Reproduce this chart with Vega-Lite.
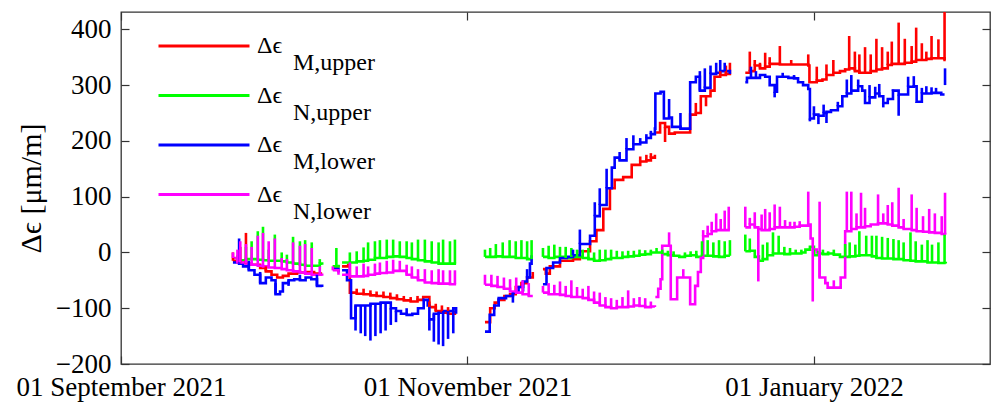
{
  "$schema": "https://vega.github.io/schema/vega-lite/v6.json",
  "width": 869,
  "height": 352,
  "autosize": "none",
  "padding": {"left": 121, "top": 12, "right": 6, "bottom": 41},
  "background": "white",
  "config": {
    "view": {"stroke": "#333333", "strokeWidth": 1.3},
    "font": "Liberation Serif",
    "axis": {
      "grid": false,
      "domain": false,
      "labelFont": "Liberation Serif",
      "labelFontSize": 27,
      "labelColor": "#000000",
      "labelLimit": 400,
      "tickColor": "#333333",
      "tickSize": -8,
      "tickWidth": 1.2,
      "titleFont": "Liberation Serif",
      "titleFontWeight": "normal",
      "titleColor": "#000000"
    }
  },
  "data": {
    "values": [
      {"s":"M,upper","g":"A","t":"2021-09-20T17:00","v":-15,"p":0},
      {"s":"M,upper","g":"A","t":"2021-09-22T00:00","v":-18,"p":10},
      {"s":"M,upper","g":"A","t":"2021-09-23T00:00","v":-20,"p":35},
      {"s":"M,upper","g":"A","t":"2021-09-24T00:00","v":-22},
      {"s":"M,upper","g":"A","t":"2021-09-25T12:00","v":-28},
      {"s":"M,upper","g":"A","t":"2021-09-26T12:00","v":-34,"p":-25},
      {"s":"M,upper","g":"A","t":"2021-09-27T12:00","v":-40},
      {"s":"M,upper","g":"A","t":"2021-09-28T12:00","v":-45},
      {"s":"M,upper","g":"A","t":"2021-09-29T12:00","v":-42},
      {"s":"M,upper","g":"A","t":"2021-09-30T12:00","v":-38},
      {"s":"M,upper","g":"A","t":"2021-10-02T00:00","v":-36},
      {"s":"M,upper","g":"A","t":"2021-10-03T12:00","v":-35},
      {"s":"M,upper","g":"A","t":"2021-10-05T00:00","v":-38},
      {"s":"M,upper","g":"A","t":"2021-10-06T10:00","v":-38},
      {"s":"M,upper","g":"A2","t":"2021-10-08T07:00","v":-25},
      {"s":"M,upper","g":"A2","t":"2021-10-09T07:00","v":-27},
      {"s":"M,upper","g":"B","t":"2021-10-09T22:00","v":-25},
      {"s":"M,upper","g":"B","t":"2021-10-11T00:00","v":-22},
      {"s":"M,upper","g":"B","t":"2021-10-11T07:00","v":-72},
      {"s":"M,upper","g":"B","t":"2021-10-12T12:00","v":-74,"p":-65},
      {"s":"M,upper","g":"B","t":"2021-10-13T17:00","v":-75,"p":-65},
      {"s":"M,upper","g":"B","t":"2021-10-14T22:00","v":-77,"p":-68},
      {"s":"M,upper","g":"B","t":"2021-10-16T00:00","v":-78,"p":-70},
      {"s":"M,upper","g":"B","t":"2021-10-17T05:00","v":-80,"p":-70},
      {"s":"M,upper","g":"B","t":"2021-10-18T10:00","v":-82,"p":-72},
      {"s":"M,upper","g":"B","t":"2021-10-19T14:00","v":-84,"p":-75},
      {"s":"M,upper","g":"B","t":"2021-10-20T19:00","v":-86,"p":-78},
      {"s":"M,upper","g":"B","t":"2021-10-22T00:00","v":-88,"p":-80},
      {"s":"M,upper","g":"B","t":"2021-10-23T05:00","v":-85,"p":-78},
      {"s":"M,upper","g":"B","t":"2021-10-24T05:00","v":-80},
      {"s":"M,upper","g":"B","t":"2021-10-25T07:00","v":-98,"p":-88},
      {"s":"M,upper","g":"B","t":"2021-10-26T10:00","v":-105,"p":-92},
      {"s":"M,upper","g":"B","t":"2021-10-27T12:00","v":-108,"p":-95},
      {"s":"M,upper","g":"B","t":"2021-10-28T14:00","v":-110,"p":-98},
      {"s":"M,upper","g":"B","t":"2021-10-29T19:00","v":-105},
      {"s":"M,upper","g":"C","t":"2021-11-04T02:00","v":-125},
      {"s":"M,upper","g":"C","t":"2021-11-05T00:00","v":-100},
      {"s":"M,upper","g":"C","t":"2021-11-05T19:00","v":-90},
      {"s":"M,upper","g":"C","t":"2021-11-06T12:00","v":-85},
      {"s":"M,upper","g":"C","t":"2021-11-07T12:00","v":-78},
      {"s":"M,upper","g":"C","t":"2021-11-08T12:00","v":-75},
      {"s":"M,upper","g":"C","t":"2021-11-09T12:00","v":-62},
      {"s":"M,upper","g":"C","t":"2021-11-10T12:00","v":-55},
      {"s":"M,upper","g":"C","t":"2021-11-11T12:00","v":-45},
      {"s":"M,upper","g":"C","t":"2021-11-12T12:00","v":-35},
      {"s":"M,upper","g":"D1","t":"2021-11-14T07:00","v":-30},
      {"s":"M,upper","g":"D1","t":"2021-11-14T19:00","v":-38},
      {"s":"M,upper","g":"D1","t":"2021-11-15T12:00","v":-25},
      {"s":"M,upper","g":"D1","t":"2021-11-17T07:00","v":-15},
      {"s":"M,upper","g":"D1","t":"2021-11-19T14:00","v":-12},
      {"s":"M,upper","g":"D1","t":"2021-11-20T19:00","v":2},
      {"s":"M,upper","g":"D1","t":"2021-11-22T14:00","v":20},
      {"s":"M,upper","g":"D1","t":"2021-11-23T17:00","v":40},
      {"s":"M,upper","g":"D1","t":"2021-11-24T22:00","v":78},
      {"s":"M,upper","g":"D1","t":"2021-11-26T02:00","v":115},
      {"s":"M,upper","g":"D1","t":"2021-11-26T22:00","v":130},
      {"s":"M,upper","g":"D1","t":"2021-11-28T10:00","v":135},
      {"s":"M,upper","g":"D1","t":"2021-11-29T22:00","v":157},
      {"s":"M,upper","g":"D1","t":"2021-12-01T10:00","v":163,"p":172},
      {"s":"M,upper","g":"D1","t":"2021-12-02T12:00","v":165,"p":175},
      {"s":"M,upper","g":"D1","t":"2021-12-03T07:00","v":170,"p":178},
      {"s":"M,upper","g":"D1","t":"2021-12-04T00:00","v":175},
      {"s":"M,upper","g":"D2","t":"2021-12-04T05:00","v":215},
      {"s":"M,upper","g":"D2","t":"2021-12-04T22:00","v":232},
      {"s":"M,upper","g":"D2","t":"2021-12-05T19:00","v":225,"p":198},
      {"s":"M,upper","g":"D2","t":"2021-12-06T12:00","v":213},
      {"s":"M,upper","g":"D2","t":"2021-12-07T12:00","v":215},
      {"s":"M,upper","g":"D2","t":"2021-12-10T05:00","v":247},
      {"s":"M,upper","g":"D2","t":"2021-12-11T05:00","v":250,"p":268},
      {"s":"M,upper","g":"D2","t":"2021-12-12T02:00","v":280},
      {"s":"M,upper","g":"D2","t":"2021-12-13T00:00","v":280,"p":262},
      {"s":"M,upper","g":"D2","t":"2021-12-13T19:00","v":290},
      {"s":"M,upper","g":"D2","t":"2021-12-14T12:00","v":315},
      {"s":"M,upper","g":"D2","t":"2021-12-15T12:00","v":318,"p":325},
      {"s":"M,upper","g":"D2","t":"2021-12-16T12:00","v":320,"p":335},
      {"s":"M,upper","g":"D2","t":"2021-12-17T05:00","v":340},
      {"s":"M,upper","g":"E","t":"2021-12-19T22:00","v":322},
      {"s":"M,upper","g":"E","t":"2021-12-20T17:00","v":325,"p":360},
      {"s":"M,upper","g":"E","t":"2021-12-21T14:00","v":335,"p":345},
      {"s":"M,upper","g":"E","t":"2021-12-22T12:00","v":330,"p":340},
      {"s":"M,upper","g":"E","t":"2021-12-23T10:00","v":333,"p":358},
      {"s":"M,upper","g":"E","t":"2021-12-24T05:00","v":338,"p":350},
      {"s":"M,upper","g":"E","t":"2021-12-25T02:00","v":338},
      {"s":"M,upper","g":"E","t":"2021-12-26T00:00","v":337,"p":370},
      {"s":"M,upper","g":"E","t":"2021-12-27T00:00","v":337},
      {"s":"M,upper","g":"E","t":"2021-12-28T00:00","v":337,"p":345},
      {"s":"M,upper","g":"E","t":"2021-12-29T05:00","v":337},
      {"s":"M,upper","g":"E","t":"2021-12-31T00:00","v":335,"p":355},
      {"s":"M,upper","g":"E","t":"2021-12-31T05:00","v":305},
      {"s":"M,upper","g":"E","t":"2022-01-01T12:00","v":308,"p":333},
      {"s":"M,upper","g":"E","t":"2022-01-02T12:00","v":310},
      {"s":"M,upper","g":"E","t":"2022-01-03T05:00","v":318,"p":337},
      {"s":"M,upper","g":"E","t":"2022-01-04T10:00","v":322,"p":345},
      {"s":"M,upper","g":"E","t":"2022-01-05T14:00","v":325},
      {"s":"M,upper","g":"E","t":"2022-01-06T12:00","v":328,"p":330},
      {"s":"M,upper","g":"E","t":"2022-01-07T05:00","v":330,"p":388},
      {"s":"M,upper","g":"E","t":"2022-01-08T05:00","v":325,"p":360},
      {"s":"M,upper","g":"E","t":"2022-01-09T00:00","v":322,"p":355},
      {"s":"M,upper","g":"E","t":"2022-01-10T00:00","v":322,"p":368},
      {"s":"M,upper","g":"E","t":"2022-01-11T00:00","v":325,"p":355},
      {"s":"M,upper","g":"E","t":"2022-01-12T00:00","v":328,"p":383},
      {"s":"M,upper","g":"E","t":"2022-01-13T00:00","v":330,"p":368},
      {"s":"M,upper","g":"E","t":"2022-01-14T00:00","v":336,"p":360},
      {"s":"M,upper","g":"E","t":"2022-01-14T17:00","v":338,"p":378},
      {"s":"M,upper","g":"E","t":"2022-01-15T22:00","v":338,"p":412},
      {"s":"M,upper","g":"E","t":"2022-01-17T00:00","v":340,"p":383},
      {"s":"M,upper","g":"E","t":"2022-01-18T05:00","v":342,"p":370},
      {"s":"M,upper","g":"E","t":"2022-01-19T00:00","v":345,"p":403},
      {"s":"M,upper","g":"E","t":"2022-01-20T00:00","v":345,"p":375},
      {"s":"M,upper","g":"E","t":"2022-01-20T19:00","v":347,"p":360},
      {"s":"M,upper","g":"E","t":"2022-01-21T17:00","v":348,"p":388},
      {"s":"M,upper","g":"E","t":"2022-01-22T22:00","v":348,"p":382},
      {"s":"M,upper","g":"E","t":"2022-01-24T00:00","v":345,"p":440},
      {"s":"M,upper","g":"E","t":"2022-01-24T05:00","v":345},

      {"s":"N,upper","g":"A","t":"2021-09-21T12:00","v":-14,"p":-5},
      {"s":"N,upper","g":"A","t":"2021-09-23T00:00","v":-12,"p":10},
      {"s":"N,upper","g":"A","t":"2021-09-24T00:00","v":-12,"p":20},
      {"s":"N,upper","g":"A","t":"2021-09-25T02:00","v":-13,"p":38},
      {"s":"N,upper","g":"A","t":"2021-09-26T00:00","v":-14,"p":46},
      {"s":"N,upper","g":"A","t":"2021-09-27T00:00","v":-15,"p":5},
      {"s":"N,upper","g":"A","t":"2021-09-28T02:00","v":-15,"p":32},
      {"s":"N,upper","g":"A","t":"2021-09-29T07:00","v":-16,"p":0},
      {"s":"N,upper","g":"A","t":"2021-09-30T05:00","v":-18,"p":-4},
      {"s":"N,upper","g":"A","t":"2021-10-01T07:00","v":-20,"p":28},
      {"s":"N,upper","g":"A","t":"2021-10-02T12:00","v":-22,"p":20},
      {"s":"N,upper","g":"A","t":"2021-10-03T10:00","v":-24,"p":22},
      {"s":"N,upper","g":"A","t":"2021-10-04T14:00","v":-24,"p":18},
      {"s":"N,upper","g":"A","t":"2021-10-06T00:00","v":-20,"p":-12},
      {"s":"N,upper","g":"A","t":"2021-10-06T10:00","v":-22},
      {"s":"N,upper","g":"A2","t":"2021-10-08T07:00","v":-25},
      {"s":"N,upper","g":"A2","t":"2021-10-08T22:00","v":-25,"p":8},
      {"s":"N,upper","g":"A2","t":"2021-10-09T07:00","v":-22},
      {"s":"N,upper","g":"B","t":"2021-10-09T22:00","v":-18},
      {"s":"N,upper","g":"B","t":"2021-10-11T07:00","v":-18,"p":0},
      {"s":"N,upper","g":"B","t":"2021-10-12T12:00","v":-16,"p":2},
      {"s":"N,upper","g":"B","t":"2021-10-13T17:00","v":-15,"p":9},
      {"s":"N,upper","g":"B","t":"2021-10-14T12:00","v":-13,"p":18},
      {"s":"N,upper","g":"B","t":"2021-10-15T17:00","v":-10,"p":20},
      {"s":"N,upper","g":"B","t":"2021-10-16T14:00","v":-10,"p":22},
      {"s":"N,upper","g":"B","t":"2021-10-17T19:00","v":-8,"p":23},
      {"s":"N,upper","g":"B","t":"2021-10-18T22:00","v":-7,"p":23},
      {"s":"N,upper","g":"B","t":"2021-10-20T02:00","v":-8,"p":20},
      {"s":"N,upper","g":"B","t":"2021-10-21T07:00","v":-10,"p":20},
      {"s":"N,upper","g":"B","t":"2021-10-22T05:00","v":-12,"p":18},
      {"s":"N,upper","g":"B","t":"2021-10-23T07:00","v":-14,"p":23},
      {"s":"N,upper","g":"B","t":"2021-10-24T12:00","v":-16,"p":23},
      {"s":"N,upper","g":"B","t":"2021-10-25T17:00","v":-18,"p":20},
      {"s":"N,upper","g":"B","t":"2021-10-26T22:00","v":-20,"p":18},
      {"s":"N,upper","g":"B","t":"2021-10-27T17:00","v":-20,"p":23},
      {"s":"N,upper","g":"B","t":"2021-10-28T22:00","v":-20,"p":20},
      {"s":"N,upper","g":"B","t":"2021-10-29T19:00","v":-20,"p":23},
      {"s":"N,upper","g":"B","t":"2021-10-30T00:00","v":-20},
      {"s":"N,upper","g":"C","t":"2021-11-04T02:00","v":-8,"p":5},
      {"s":"N,upper","g":"C","t":"2021-11-05T00:00","v":-8,"p":8},
      {"s":"N,upper","g":"C","t":"2021-11-06T00:00","v":-7,"p":15},
      {"s":"N,upper","g":"C","t":"2021-11-07T05:00","v":-8,"p":18},
      {"s":"N,upper","g":"C","t":"2021-11-08T10:00","v":-8,"p":22},
      {"s":"N,upper","g":"C","t":"2021-11-09T12:00","v":-10,"p":20},
      {"s":"N,upper","g":"C","t":"2021-11-10T12:00","v":-10,"p":22},
      {"s":"N,upper","g":"C","t":"2021-11-11T12:00","v":-12,"p":20},
      {"s":"N,upper","g":"C","t":"2021-11-12T07:00","v":-12,"p":22},
      {"s":"N,upper","g":"C","t":"2021-11-12T12:00","v":-12},
      {"s":"N,upper","g":"D","t":"2021-11-14T07:00","v":-8,"p":8},
      {"s":"N,upper","g":"D","t":"2021-11-15T07:00","v":-10,"p":12},
      {"s":"N,upper","g":"D","t":"2021-11-16T07:00","v":-8,"p":14},
      {"s":"N,upper","g":"D","t":"2021-11-17T07:00","v":-8,"p":10},
      {"s":"N,upper","g":"D","t":"2021-11-18T07:00","v":-10,"p":10},
      {"s":"N,upper","g":"D","t":"2021-11-19T07:00","v":-8,"p":8},
      {"s":"N,upper","g":"D","t":"2021-11-20T07:00","v":-8,"p":5},
      {"s":"N,upper","g":"D","t":"2021-11-21T07:00","v":-10,"p":5},
      {"s":"N,upper","g":"D","t":"2021-11-22T07:00","v":-12,"p":8},
      {"s":"N,upper","g":"D","t":"2021-11-23T07:00","v":-15,"p":0},
      {"s":"N,upper","g":"D","t":"2021-11-24T07:00","v":-14,"p":5},
      {"s":"N,upper","g":"D","t":"2021-11-25T07:00","v":-12,"p":5},
      {"s":"N,upper","g":"D","t":"2021-11-26T07:00","v":-10,"p":5},
      {"s":"N,upper","g":"D","t":"2021-11-27T07:00","v":-10,"p":3},
      {"s":"N,upper","g":"D","t":"2021-11-28T07:00","v":-8,"p":2},
      {"s":"N,upper","g":"D","t":"2021-11-29T07:00","v":-7,"p":3},
      {"s":"N,upper","g":"D","t":"2021-11-30T07:00","v":-6,"p":3},
      {"s":"N,upper","g":"D","t":"2021-12-01T07:00","v":-4,"p":5},
      {"s":"N,upper","g":"D","t":"2021-12-02T07:00","v":-3,"p":4},
      {"s":"N,upper","g":"D","t":"2021-12-03T07:00","v":0,"p":5},
      {"s":"N,upper","g":"D","t":"2021-12-04T07:00","v":0,"p":8},
      {"s":"N,upper","g":"D","t":"2021-12-05T07:00","v":-3,"p":5},
      {"s":"N,upper","g":"D","t":"2021-12-06T07:00","v":-5,"p":3},
      {"s":"N,upper","g":"D","t":"2021-12-07T07:00","v":-6,"p":2},
      {"s":"N,upper","g":"D","t":"2021-12-08T07:00","v":-8},
      {"s":"N,upper","g":"D","t":"2021-12-09T07:00","v":-6,"p":0},
      {"s":"N,upper","g":"D","t":"2021-12-10T07:00","v":-5,"p":2},
      {"s":"N,upper","g":"D","t":"2021-12-11T07:00","v":-8,"p":3},
      {"s":"N,upper","g":"D","t":"2021-12-12T07:00","v":-6,"p":20},
      {"s":"N,upper","g":"D","t":"2021-12-13T07:00","v":-6,"p":22},
      {"s":"N,upper","g":"D","t":"2021-12-14T07:00","v":-7,"p":18},
      {"s":"N,upper","g":"D","t":"2021-12-15T07:00","v":-8,"p":22},
      {"s":"N,upper","g":"D","t":"2021-12-16T07:00","v":-6,"p":20},
      {"s":"N,upper","g":"D","t":"2021-12-17T05:00","v":-6,"p":22},
      {"s":"N,upper","g":"E","t":"2021-12-19T22:00","v":2,"p":32},
      {"s":"N,upper","g":"E","t":"2021-12-20T17:00","v":3,"p":25},
      {"s":"N,upper","g":"E","t":"2021-12-21T14:00","v":-8},
      {"s":"N,upper","g":"E","t":"2021-12-22T07:00","v":-15,"p":-5},
      {"s":"N,upper","g":"E","t":"2021-12-23T00:00","v":-12,"p":14},
      {"s":"N,upper","g":"E","t":"2021-12-23T19:00","v":-5,"p":18},
      {"s":"N,upper","g":"E","t":"2021-12-24T19:00","v":-2,"p":36},
      {"s":"N,upper","g":"E","t":"2021-12-25T19:00","v":-2,"p":30},
      {"s":"N,upper","g":"E","t":"2021-12-26T19:00","v":-3,"p":10},
      {"s":"N,upper","g":"E","t":"2021-12-27T19:00","v":-2,"p":8},
      {"s":"N,upper","g":"E","t":"2021-12-28T19:00","v":-2,"p":5},
      {"s":"N,upper","g":"E","t":"2021-12-29T19:00","v":0,"p":5},
      {"s":"N,upper","g":"E","t":"2021-12-30T12:00","v":5},
      {"s":"N,upper","g":"E","t":"2021-12-31T07:00","v":10},
      {"s":"N,upper","g":"E","t":"2022-01-01T00:00","v":-5,"p":5},
      {"s":"N,upper","g":"E","t":"2022-01-01T19:00","v":-2,"p":3},
      {"s":"N,upper","g":"E","t":"2022-01-02T14:00","v":-3,"p":5},
      {"s":"N,upper","g":"E","t":"2022-01-03T12:00","v":-2,"p":2},
      {"s":"N,upper","g":"E","t":"2022-01-04T12:00","v":-4,"p":5},
      {"s":"N,upper","g":"E","t":"2022-01-05T14:00","v":-8},
      {"s":"N,upper","g":"E","t":"2022-01-06T12:00","v":-8,"p":15},
      {"s":"N,upper","g":"E","t":"2022-01-07T07:00","v":-7,"p":18},
      {"s":"N,upper","g":"E","t":"2022-01-08T07:00","v":-6,"p":14},
      {"s":"N,upper","g":"E","t":"2022-01-09T00:00","v":-5,"p":38},
      {"s":"N,upper","g":"E","t":"2022-01-10T05:00","v":-5,"p":30},
      {"s":"N,upper","g":"E","t":"2022-01-11T05:00","v":-7,"p":30},
      {"s":"N,upper","g":"E","t":"2022-01-12T00:00","v":-10,"p":30},
      {"s":"N,upper","g":"E","t":"2022-01-13T00:00","v":-11,"p":28},
      {"s":"N,upper","g":"E","t":"2022-01-14T00:00","v":-11,"p":26},
      {"s":"N,upper","g":"E","t":"2022-01-15T00:00","v":-12,"p":24},
      {"s":"N,upper","g":"E","t":"2022-01-15T22:00","v":-12,"p":22},
      {"s":"N,upper","g":"E","t":"2022-01-16T19:00","v":-14,"p":18},
      {"s":"N,upper","g":"E","t":"2022-01-18T00:00","v":-15,"p":36},
      {"s":"N,upper","g":"E","t":"2022-01-18T22:00","v":-16,"p":20},
      {"s":"N,upper","g":"E","t":"2022-01-20T00:00","v":-16,"p":14},
      {"s":"N,upper","g":"E","t":"2022-01-21T00:00","v":-18,"p":22},
      {"s":"N,upper","g":"E","t":"2022-01-21T19:00","v":-18,"p":14},
      {"s":"N,upper","g":"E","t":"2022-01-22T22:00","v":-19,"p":18},
      {"s":"N,upper","g":"E","t":"2022-01-24T00:00","v":-19,"p":32},
      {"s":"N,upper","g":"E","t":"2022-01-24T05:00","v":-20},

      {"s":"M,lower","g":"A","t":"2021-09-20T17:00","v":-18},
      {"s":"M,lower","g":"A","t":"2021-09-21T19:00","v":-20,"p":25},
      {"s":"M,lower","g":"A","t":"2021-09-22T12:00","v":-25},
      {"s":"M,lower","g":"A","t":"2021-09-23T12:00","v":-32,"p":-15},
      {"s":"M,lower","g":"A","t":"2021-09-24T12:00","v":-40},
      {"s":"M,lower","g":"A","t":"2021-09-25T12:00","v":-55,"p":-35},
      {"s":"M,lower","g":"A","t":"2021-09-26T12:00","v":-45},
      {"s":"M,lower","g":"A","t":"2021-09-27T12:00","v":-50},
      {"s":"M,lower","g":"A","t":"2021-09-28T05:00","v":-75,"p":-55},
      {"s":"M,lower","g":"A","t":"2021-09-29T00:00","v":-70},
      {"s":"M,lower","g":"A","t":"2021-09-29T12:00","v":-55},
      {"s":"M,lower","g":"A","t":"2021-09-30T12:00","v":-50,"p":-60},
      {"s":"M,lower","g":"A","t":"2021-10-01T12:00","v":-48},
      {"s":"M,lower","g":"A","t":"2021-10-02T12:00","v":-50,"p":-40},
      {"s":"M,lower","g":"A","t":"2021-10-03T12:00","v":-45},
      {"s":"M,lower","g":"A","t":"2021-10-04T12:00","v":-48},
      {"s":"M,lower","g":"A","t":"2021-10-05T12:00","v":-60,"p":-40},
      {"s":"M,lower","g":"A","t":"2021-10-06T10:00","v":-62},
      {"s":"M,lower","g":"A2","t":"2021-10-08T07:00","v":-30},
      {"s":"M,lower","g":"A2","t":"2021-10-09T07:00","v":-36},
      {"s":"M,lower","g":"B","t":"2021-10-09T22:00","v":-32},
      {"s":"M,lower","g":"B","t":"2021-10-10T19:00","v":-50},
      {"s":"M,lower","g":"B","t":"2021-10-11T12:00","v":-118},
      {"s":"M,lower","g":"B","t":"2021-10-12T07:00","v":-95,"p":-140},
      {"s":"M,lower","g":"B","t":"2021-10-13T05:00","v":-95,"p":-145},
      {"s":"M,lower","g":"B","t":"2021-10-14T00:00","v":-95,"p":-150},
      {"s":"M,lower","g":"B","t":"2021-10-14T22:00","v":-92,"p":-158},
      {"s":"M,lower","g":"B","t":"2021-10-15T19:00","v":-92,"p":-150},
      {"s":"M,lower","g":"B","t":"2021-10-16T17:00","v":-90,"p":-145},
      {"s":"M,lower","g":"B","t":"2021-10-17T14:00","v":-90,"p":-140},
      {"s":"M,lower","g":"B","t":"2021-10-18T12:00","v":-100,"p":-130},
      {"s":"M,lower","g":"B","t":"2021-10-19T10:00","v":-105,"p":-125},
      {"s":"M,lower","g":"B","t":"2021-10-20T07:00","v":-110},
      {"s":"M,lower","g":"B","t":"2021-10-21T07:00","v":-112,"p":-100},
      {"s":"M,lower","g":"B","t":"2021-10-22T07:00","v":-110},
      {"s":"M,lower","g":"B","t":"2021-10-23T07:00","v":-100},
      {"s":"M,lower","g":"B","t":"2021-10-24T07:00","v":-85},
      {"s":"M,lower","g":"B","t":"2021-10-25T00:00","v":-95},
      {"s":"M,lower","g":"B","t":"2021-10-25T07:00","v":-120,"p":-140},
      {"s":"M,lower","g":"B","t":"2021-10-26T02:00","v":-110,"p":-160},
      {"s":"M,lower","g":"B","t":"2021-10-26T22:00","v":-108,"p":-165},
      {"s":"M,lower","g":"B","t":"2021-10-27T17:00","v":-105,"p":-168},
      {"s":"M,lower","g":"B","t":"2021-10-28T14:00","v":-105,"p":-155},
      {"s":"M,lower","g":"B","t":"2021-10-29T12:00","v":-100,"p":-145},
      {"s":"M,lower","g":"B","t":"2021-10-30T00:00","v":-110},
      {"s":"M,lower","g":"C","t":"2021-11-04T02:00","v":-142},
      {"s":"M,lower","g":"C","t":"2021-11-04T22:00","v":-112},
      {"s":"M,lower","g":"C","t":"2021-11-05T17:00","v":-95},
      {"s":"M,lower","g":"C","t":"2021-11-06T12:00","v":-82,"p":-90},
      {"s":"M,lower","g":"C","t":"2021-11-07T19:00","v":-78},
      {"s":"M,lower","g":"C","t":"2021-11-09T00:00","v":-72,"p":-90},
      {"s":"M,lower","g":"C","t":"2021-11-10T00:00","v":-62},
      {"s":"M,lower","g":"C","t":"2021-11-10T19:00","v":-52,"p":-70},
      {"s":"M,lower","g":"C","t":"2021-11-11T12:00","v":-45,"p":-30},
      {"s":"M,lower","g":"C","t":"2021-11-12T00:00","v":-20},
      {"s":"M,lower","g":"C","t":"2021-11-12T07:00","v":-5},
      {"s":"M,lower","g":"D","t":"2021-11-14T07:00","v":-57},
      {"s":"M,lower","g":"D","t":"2021-11-14T22:00","v":-28},
      {"s":"M,lower","g":"D","t":"2021-11-16T02:00","v":-18},
      {"s":"M,lower","g":"D","t":"2021-11-17T07:00","v":-10},
      {"s":"M,lower","g":"D","t":"2021-11-18T12:00","v":-8},
      {"s":"M,lower","g":"D","t":"2021-11-19T14:00","v":-5,"p":5},
      {"s":"M,lower","g":"D","t":"2021-11-20T19:00","v":15,"p":41},
      {"s":"M,lower","g":"D","t":"2021-11-22T14:00","v":30},
      {"s":"M,lower","g":"D","t":"2021-11-23T10:00","v":65,"p":90},
      {"s":"M,lower","g":"D","t":"2021-11-24T07:00","v":85,"p":115},
      {"s":"M,lower","g":"D","t":"2021-11-25T12:00","v":115,"p":150},
      {"s":"M,lower","g":"D","t":"2021-11-26T10:00","v":152},
      {"s":"M,lower","g":"D","t":"2021-11-26T22:00","v":170},
      {"s":"M,lower","g":"D","t":"2021-11-27T19:00","v":165,"p":180},
      {"s":"M,lower","g":"D","t":"2021-11-29T00:00","v":185,"p":205},
      {"s":"M,lower","g":"D","t":"2021-11-30T05:00","v":194,"p":210},
      {"s":"M,lower","g":"D","t":"2021-12-01T10:00","v":197,"p":205},
      {"s":"M,lower","g":"D","t":"2021-12-02T12:00","v":205,"p":212},
      {"s":"M,lower","g":"D","t":"2021-12-03T07:00","v":212,"p":218},
      {"s":"M,lower","g":"D","t":"2021-12-04T00:00","v":222},
      {"s":"M,lower","g":"D","t":"2021-12-04T02:00","v":285},
      {"s":"M,lower","g":"D","t":"2021-12-05T00:00","v":288},
      {"s":"M,lower","g":"D","t":"2021-12-05T14:00","v":240},
      {"s":"M,lower","g":"D","t":"2021-12-06T12:00","v":242,"p":275},
      {"s":"M,lower","g":"D","t":"2021-12-07T00:00","v":225},
      {"s":"M,lower","g":"D","t":"2021-12-08T12:00","v":222,"p":250},
      {"s":"M,lower","g":"D","t":"2021-12-10T05:00","v":305},
      {"s":"M,lower","g":"D","t":"2021-12-11T05:00","v":315},
      {"s":"M,lower","g":"D","t":"2021-12-11T22:00","v":290,"p":325},
      {"s":"M,lower","g":"D","t":"2021-12-12T19:00","v":295,"p":330},
      {"s":"M,lower","g":"D","t":"2021-12-13T19:00","v":320,"p":335},
      {"s":"M,lower","g":"D","t":"2021-12-14T19:00","v":322,"p":340},
      {"s":"M,lower","g":"D","t":"2021-12-15T12:00","v":325,"p":345},
      {"s":"M,lower","g":"D","t":"2021-12-16T07:00","v":325,"p":340},
      {"s":"M,lower","g":"D","t":"2021-12-17T05:00","v":320},
      {"s":"M,lower","g":"E","t":"2021-12-19T22:00","v":305},
      {"s":"M,lower","g":"E","t":"2021-12-20T05:00","v":313},
      {"s":"M,lower","g":"E","t":"2021-12-20T22:00","v":313,"p":333},
      {"s":"M,lower","g":"E","t":"2021-12-21T19:00","v":313,"p":325},
      {"s":"M,lower","g":"E","t":"2021-12-22T12:00","v":318},
      {"s":"M,lower","g":"E","t":"2021-12-23T10:00","v":315},
      {"s":"M,lower","g":"E","t":"2021-12-24T05:00","v":300},
      {"s":"M,lower","g":"E","t":"2021-12-25T02:00","v":288,"p":278},
      {"s":"M,lower","g":"E","t":"2021-12-25T12:00","v":315},
      {"s":"M,lower","g":"E","t":"2021-12-26T12:00","v":315,"p":322},
      {"s":"M,lower","g":"E","t":"2021-12-27T12:00","v":313},
      {"s":"M,lower","g":"E","t":"2021-12-28T12:00","v":312,"p":318},
      {"s":"M,lower","g":"E","t":"2021-12-29T05:00","v":305},
      {"s":"M,lower","g":"E","t":"2021-12-30T02:00","v":300},
      {"s":"M,lower","g":"E","t":"2021-12-31T00:00","v":293},
      {"s":"M,lower","g":"E","t":"2021-12-31T07:00","v":240,"p":235},
      {"s":"M,lower","g":"E","t":"2022-01-01T00:00","v":247,"p":262},
      {"s":"M,lower","g":"E","t":"2022-01-01T19:00","v":245,"p":230},
      {"s":"M,lower","g":"E","t":"2022-01-02T17:00","v":250,"p":265},
      {"s":"M,lower","g":"E","t":"2022-01-03T05:00","v":252,"p":232},
      {"s":"M,lower","g":"E","t":"2022-01-04T00:00","v":255},
      {"s":"M,lower","g":"E","t":"2022-01-05T05:00","v":262,"p":270},
      {"s":"M,lower","g":"E","t":"2022-01-06T00:00","v":280},
      {"s":"M,lower","g":"E","t":"2022-01-06T19:00","v":285,"p":310},
      {"s":"M,lower","g":"E","t":"2022-01-07T14:00","v":290,"p":318},
      {"s":"M,lower","g":"E","t":"2022-01-08T19:00","v":298,"p":310},
      {"s":"M,lower","g":"E","t":"2022-01-09T12:00","v":290},
      {"s":"M,lower","g":"E","t":"2022-01-10T00:00","v":268},
      {"s":"M,lower","g":"E","t":"2022-01-10T19:00","v":278,"p":300},
      {"s":"M,lower","g":"E","t":"2022-01-11T19:00","v":285,"p":297},
      {"s":"M,lower","g":"E","t":"2022-01-12T12:00","v":280,"p":302},
      {"s":"M,lower","g":"E","t":"2022-01-13T05:00","v":268,"p":260},
      {"s":"M,lower","g":"E","t":"2022-01-14T00:00","v":275},
      {"s":"M,lower","g":"E","t":"2022-01-14T22:00","v":290,"p":292},
      {"s":"M,lower","g":"E","t":"2022-01-15T22:00","v":283,"p":245},
      {"s":"M,lower","g":"E","t":"2022-01-16T19:00","v":283},
      {"s":"M,lower","g":"E","t":"2022-01-17T14:00","v":297,"p":315},
      {"s":"M,lower","g":"E","t":"2022-01-18T14:00","v":298,"p":316},
      {"s":"M,lower","g":"E","t":"2022-01-19T02:00","v":270,"p":268},
      {"s":"M,lower","g":"E","t":"2022-01-20T00:00","v":285,"p":295},
      {"s":"M,lower","g":"E","t":"2022-01-20T19:00","v":285,"p":298},
      {"s":"M,lower","g":"E","t":"2022-01-21T17:00","v":286,"p":296},
      {"s":"M,lower","g":"E","t":"2022-01-22T12:00","v":286,"p":295},
      {"s":"M,lower","g":"E","t":"2022-01-23T10:00","v":283},
      {"s":"M,lower","g":"E","t":"2022-01-24T00:00","v":283},
      {"s":"M,lower","g":"E2","t":"2022-01-24T02:00","v":300,"p":330},

      {"s":"N,lower","g":"A","t":"2021-09-20T17:00","v":-10,"p":0},
      {"s":"N,lower","g":"A","t":"2021-09-21T12:00","v":-18,"p":5},
      {"s":"N,lower","g":"A","t":"2021-09-22T00:00","v":-18,"p":20},
      {"s":"N,lower","g":"A","t":"2021-09-23T00:00","v":-20,"p":15},
      {"s":"N,lower","g":"A","t":"2021-09-24T00:00","v":-22,"p":10},
      {"s":"N,lower","g":"A","t":"2021-09-25T02:00","v":-24,"p":30},
      {"s":"N,lower","g":"A","t":"2021-09-26T00:00","v":-25,"p":35},
      {"s":"N,lower","g":"A","t":"2021-09-27T00:00","v":-27,"p":20},
      {"s":"N,lower","g":"A","t":"2021-09-28T02:00","v":-28,"p":25},
      {"s":"N,lower","g":"A","t":"2021-09-29T07:00","v":-30,"p":-10},
      {"s":"N,lower","g":"A","t":"2021-09-30T05:00","v":-32,"p":-12},
      {"s":"N,lower","g":"A","t":"2021-10-01T07:00","v":-34,"p":18},
      {"s":"N,lower","g":"A","t":"2021-10-02T12:00","v":-36,"p":12},
      {"s":"N,lower","g":"A","t":"2021-10-03T10:00","v":-38,"p":15},
      {"s":"N,lower","g":"A","t":"2021-10-04T14:00","v":-40,"p":8},
      {"s":"N,lower","g":"A","t":"2021-10-06T00:00","v":-40,"p":-25},
      {"s":"N,lower","g":"A","t":"2021-10-06T10:00","v":-42},
      {"s":"N,lower","g":"A2","t":"2021-10-08T07:00","v":-32,"p":-25},
      {"s":"N,lower","g":"A2","t":"2021-10-09T07:00","v":-40},
      {"s":"N,lower","g":"B","t":"2021-10-09T22:00","v":-40},
      {"s":"N,lower","g":"B","t":"2021-10-11T07:00","v":-43,"p":-18},
      {"s":"N,lower","g":"B","t":"2021-10-12T12:00","v":-43,"p":-25},
      {"s":"N,lower","g":"B","t":"2021-10-13T17:00","v":-42,"p":-20},
      {"s":"N,lower","g":"B","t":"2021-10-14T12:00","v":-40,"p":-25},
      {"s":"N,lower","g":"B","t":"2021-10-15T17:00","v":-38,"p":-20},
      {"s":"N,lower","g":"B","t":"2021-10-16T14:00","v":-37,"p":-18},
      {"s":"N,lower","g":"B","t":"2021-10-17T19:00","v":-36,"p":-15},
      {"s":"N,lower","g":"B","t":"2021-10-18T22:00","v":-33,"p":-13},
      {"s":"N,lower","g":"B","t":"2021-10-20T02:00","v":-33,"p":-15},
      {"s":"N,lower","g":"B","t":"2021-10-21T07:00","v":-40,"p":-22},
      {"s":"N,lower","g":"B","t":"2021-10-22T05:00","v":-45,"p":-25},
      {"s":"N,lower","g":"B","t":"2021-10-23T07:00","v":-50,"p":-30},
      {"s":"N,lower","g":"B","t":"2021-10-24T12:00","v":-54,"p":-30},
      {"s":"N,lower","g":"B","t":"2021-10-25T17:00","v":-55,"p":-32},
      {"s":"N,lower","g":"B","t":"2021-10-26T22:00","v":-56,"p":-30},
      {"s":"N,lower","g":"B","t":"2021-10-27T17:00","v":-56,"p":-32},
      {"s":"N,lower","g":"B","t":"2021-10-28T22:00","v":-57,"p":-32},
      {"s":"N,lower","g":"B","t":"2021-10-29T19:00","v":-57,"p":-32},
      {"s":"N,lower","g":"B","t":"2021-10-30T00:00","v":-57},
      {"s":"N,lower","g":"C","t":"2021-11-04T02:00","v":-58,"p":-40},
      {"s":"N,lower","g":"C","t":"2021-11-05T05:00","v":-60,"p":-40},
      {"s":"N,lower","g":"C","t":"2021-11-06T07:00","v":-62,"p":-42},
      {"s":"N,lower","g":"C","t":"2021-11-07T10:00","v":-65,"p":-45},
      {"s":"N,lower","g":"C","t":"2021-11-08T12:00","v":-70,"p":-48},
      {"s":"N,lower","g":"C","t":"2021-11-09T14:00","v":-72,"p":-45},
      {"s":"N,lower","g":"C","t":"2021-11-10T17:00","v":-75,"p":-50},
      {"s":"N,lower","g":"C","t":"2021-11-11T19:00","v":-78,"p":-55},
      {"s":"N,lower","g":"C","t":"2021-11-12T12:00","v":-78},
      {"s":"N,lower","g":"D1","t":"2021-11-14T07:00","v":-72,"p":-60},
      {"s":"N,lower","g":"D1","t":"2021-11-15T07:00","v":-75,"p":-55},
      {"s":"N,lower","g":"D1","t":"2021-11-16T07:00","v":-75,"p":-58},
      {"s":"N,lower","g":"D1","t":"2021-11-17T07:00","v":-76,"p":-52},
      {"s":"N,lower","g":"D1","t":"2021-11-18T07:00","v":-78,"p":-60},
      {"s":"N,lower","g":"D1","t":"2021-11-19T07:00","v":-80,"p":-50},
      {"s":"N,lower","g":"D1","t":"2021-11-20T07:00","v":-80,"p":-62},
      {"s":"N,lower","g":"D1","t":"2021-11-21T07:00","v":-82,"p":-65},
      {"s":"N,lower","g":"D1","t":"2021-11-22T07:00","v":-85,"p":-60},
      {"s":"N,lower","g":"D1","t":"2021-11-23T07:00","v":-90,"p":-70},
      {"s":"N,lower","g":"D1","t":"2021-11-24T07:00","v":-95,"p":-72},
      {"s":"N,lower","g":"D1","t":"2021-11-25T07:00","v":-98,"p":-80},
      {"s":"N,lower","g":"D1","t":"2021-11-26T07:00","v":-100,"p":-82},
      {"s":"N,lower","g":"D1","t":"2021-11-27T07:00","v":-98,"p":-85},
      {"s":"N,lower","g":"D1","t":"2021-11-28T07:00","v":-98,"p":-80},
      {"s":"N,lower","g":"D1","t":"2021-11-29T07:00","v":-97,"p":-68},
      {"s":"N,lower","g":"D1","t":"2021-11-30T07:00","v":-95,"p":-82},
      {"s":"N,lower","g":"D1","t":"2021-12-01T07:00","v":-96,"p":-80},
      {"s":"N,lower","g":"D1","t":"2021-12-02T07:00","v":-98,"p":-82},
      {"s":"N,lower","g":"D1","t":"2021-12-03T07:00","v":-97,"p":-88},
      {"s":"N,lower","g":"D1","t":"2021-12-04T00:00","v":-98},
      {"s":"N,lower","g":"D2","t":"2021-12-04T02:00","v":-80},
      {"s":"N,lower","g":"D2","t":"2021-12-04T14:00","v":-65},
      {"s":"N,lower","g":"D2","t":"2021-12-05T00:00","v":-48},
      {"s":"N,lower","g":"D2","t":"2021-12-05T07:00","v":12},
      {"s":"N,lower","g":"D2","t":"2021-12-06T12:00","v":12,"p":36},
      {"s":"N,lower","g":"D2","t":"2021-12-06T19:00","v":-84},
      {"s":"N,lower","g":"D2","t":"2021-12-07T22:00","v":-45},
      {"s":"N,lower","g":"D2","t":"2021-12-09T00:00","v":-45,"p":-30},
      {"s":"N,lower","g":"D2","t":"2021-12-10T05:00","v":-93},
      {"s":"N,lower","g":"D2","t":"2021-12-11T02:00","v":-60},
      {"s":"N,lower","g":"D2","t":"2021-12-11T14:00","v":-35},
      {"s":"N,lower","g":"D2","t":"2021-12-12T02:00","v":-10},
      {"s":"N,lower","g":"D2","t":"2021-12-12T12:00","v":29,"p":40},
      {"s":"N,lower","g":"D2","t":"2021-12-13T07:00","v":33,"p":48},
      {"s":"N,lower","g":"D2","t":"2021-12-14T00:00","v":38,"p":55},
      {"s":"N,lower","g":"D2","t":"2021-12-14T19:00","v":40,"p":70},
      {"s":"N,lower","g":"D2","t":"2021-12-15T14:00","v":40,"p":60},
      {"s":"N,lower","g":"D2","t":"2021-12-16T07:00","v":40,"p":75},
      {"s":"N,lower","g":"D2","t":"2021-12-17T00:00","v":40,"p":82},
      {"s":"N,lower","g":"D2","t":"2021-12-17T05:00","v":40},
      {"s":"N,lower","g":"E","t":"2021-12-19T22:00","v":45,"p":82},
      {"s":"N,lower","g":"E","t":"2021-12-20T17:00","v":50,"p":62},
      {"s":"N,lower","g":"E","t":"2021-12-21T14:00","v":45,"p":72},
      {"s":"N,lower","g":"E","t":"2021-12-22T05:00","v":42,"p":-52},
      {"s":"N,lower","g":"E","t":"2021-12-22T19:00","v":40,"p":68},
      {"s":"N,lower","g":"E","t":"2021-12-23T10:00","v":40,"p":78},
      {"s":"N,lower","g":"E","t":"2021-12-24T05:00","v":42,"p":72},
      {"s":"N,lower","g":"E","t":"2021-12-25T02:00","v":45,"p":86},
      {"s":"N,lower","g":"E","t":"2021-12-26T00:00","v":45,"p":82},
      {"s":"N,lower","g":"E","t":"2021-12-26T22:00","v":45,"p":58},
      {"s":"N,lower","g":"E","t":"2021-12-27T19:00","v":45,"p":55},
      {"s":"N,lower","g":"E","t":"2021-12-28T14:00","v":46,"p":55},
      {"s":"N,lower","g":"E","t":"2021-12-29T12:00","v":48,"p":56},
      {"s":"N,lower","g":"E","t":"2021-12-30T07:00","v":48},
      {"s":"N,lower","g":"E","t":"2021-12-31T00:00","v":50,"p":109},
      {"s":"N,lower","g":"E","t":"2021-12-31T10:00","v":25},
      {"s":"N,lower","g":"E","t":"2021-12-31T19:00","v":5,"p":-88},
      {"s":"N,lower","g":"E","t":"2022-01-01T12:00","v":0},
      {"s":"N,lower","g":"E","t":"2022-01-02T00:00","v":-45,"p":91},
      {"s":"N,lower","g":"E","t":"2022-01-03T00:00","v":-55},
      {"s":"N,lower","g":"E","t":"2022-01-03T10:00","v":-63},
      {"s":"N,lower","g":"E","t":"2022-01-04T12:00","v":-63,"p":-50},
      {"s":"N,lower","g":"E","t":"2022-01-05T10:00","v":-63},
      {"s":"N,lower","g":"E","t":"2022-01-05T17:00","v":-45},
      {"s":"N,lower","g":"E","t":"2022-01-06T12:00","v":38},
      {"s":"N,lower","g":"E","t":"2022-01-06T19:00","v":38,"p":109},
      {"s":"N,lower","g":"E","t":"2022-01-07T14:00","v":42,"p":109},
      {"s":"N,lower","g":"E","t":"2022-01-08T12:00","v":45,"p":70},
      {"s":"N,lower","g":"E","t":"2022-01-09T07:00","v":45,"p":107},
      {"s":"N,lower","g":"E","t":"2022-01-10T00:00","v":47,"p":80},
      {"s":"N,lower","g":"E","t":"2022-01-11T00:00","v":50},
      {"s":"N,lower","g":"E","t":"2022-01-12T07:00","v":52,"p":104},
      {"s":"N,lower","g":"E","t":"2022-01-13T05:00","v":52,"p":70},
      {"s":"N,lower","g":"E","t":"2022-01-14T00:00","v":50,"p":85},
      {"s":"N,lower","g":"E","t":"2022-01-14T19:00","v":48,"p":90},
      {"s":"N,lower","g":"E","t":"2022-01-15T22:00","v":45,"p":116},
      {"s":"N,lower","g":"E","t":"2022-01-16T19:00","v":42,"p":60},
      {"s":"N,lower","g":"E","t":"2022-01-18T05:00","v":40,"p":104},
      {"s":"N,lower","g":"E","t":"2022-01-19T02:00","v":38,"p":80},
      {"s":"N,lower","g":"E","t":"2022-01-20T05:00","v":37,"p":65},
      {"s":"N,lower","g":"E","t":"2022-01-21T07:00","v":36,"p":78},
      {"s":"N,lower","g":"E","t":"2022-01-22T07:00","v":35,"p":70},
      {"s":"N,lower","g":"E","t":"2022-01-23T12:00","v":33,"p":65},
      {"s":"N,lower","g":"E","t":"2022-01-24T02:00","v":32,"p":107},
      {"s":"N,lower","g":"E","t":"2022-01-24T05:00","v":32}
    ]
  },
  "resolve": {"axis": {"x": "independent", "y": "independent"}},
  "layer": [
    {
      "mark": {"type": "line", "interpolate": "step-after", "strokeWidth": 2.6, "clip": true},
      "encoding": {
        "x": {
          "field": "t", "type": "temporal",
          "scale": {"domain": [{"year": 2021, "month": 9, "date": 1}, {"year": 2022, "month": 2, "date": 1}]},
          "axis": {
            "orient": "bottom",
            "title": null,
            "values": [{"year": 2021, "month": 9, "date": 1}, {"year": 2021, "month": 11, "date": 1}, {"year": 2022, "month": 1, "date": 1}],
            "format": "%d %B %Y",
            "labelFont": "Liberation Serif",
            "labelFlush": false,
            "labelOverlap": false,
            "labelBound": false,
            "labelLimit": 400,
            "labelPadding": 18
          }
        },
        "y": {
          "field": "v", "type": "quantitative",
          "scale": {"domain": [-200, 431], "nice": false, "zero": false},
          "axis": {
            "orient": "left",
            "values": [-200, -100, 0, 100, 200, 300, 400],
            "labelFont": "Liberation Serif",
            "title": "Δϵ [μm/m]",
            "titleFont": "Liberation Serif",
            "titleFontSize": 30,
            "titlePadding": 9,
            "labelPadding": 18
          }
        },
        "color": {
          "field": "s", "type": "nominal",
          "scale": {"domain": ["M,upper", "N,upper", "M,lower", "N,lower"], "range": ["#ff0000", "#00ff00", "#0000ff", "#ff00ff"]},
          "legend": {
            "orient": "none",
            "legendX": 66,
            "legendY": 17,
            "title": null,
            "symbolType": "M-3,0H3",
            "symbolSize": 920,
            "symbolStrokeWidth": 3,
            "labelFont": "Liberation Serif",
            "labelFontSize": 24,
            "labelColor": "#000000",
            "labelOffset": 36,
            "labelLimit": 400,
            "rowPadding": 3.5,
            "labelExpr": "['Δϵ', '\u200b\u00a0\u00a0\u00a0\u00a0\u00a0\u00a0' + datum.label]",
            "encode": {
              "labels": {"update": {"lineHeight": {"value": 17}}}
            }
          }
        },
        "detail": {"field": "g", "type": "nominal"}
      }
    },
    {
      "transform": [{"filter": "isValid(datum.p)"}],
      "mark": {"type": "rule", "strokeWidth": 2.6, "clip": true},
      "encoding": {
        "x": {
          "field": "t", "type": "temporal",
          "axis": {
            "orient": "top",
            "title": null,
            "labels": false,
            "values": [{"year": 2021, "month": 9, "date": 1}, {"year": 2021, "month": 11, "date": 1}, {"year": 2022, "month": 1, "date": 1}]
          }
        },
        "y": {
          "field": "v", "type": "quantitative",
          "axis": {"orient": "right", "title": null, "labels": false, "values": [-200, -100, 0, 100, 200, 300, 400]}
        },
        "y2": {"field": "p"},
        "color": {"field": "s", "type": "nominal"}
      }
    }
  ]
}
